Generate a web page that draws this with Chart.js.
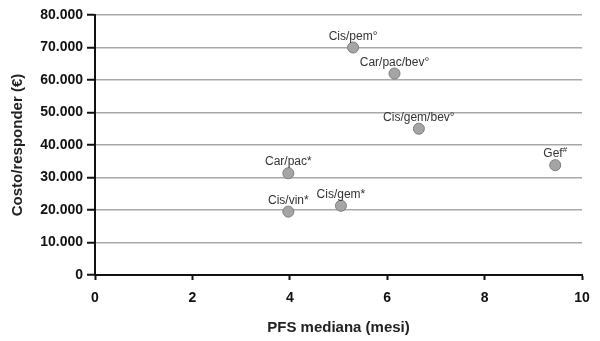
<!DOCTYPE html>
<html>
<head>
<meta charset="utf-8">
<script src="https://cdn.jsdelivr.net/npm/chart.js@4.4.1/dist/chart.umd.min.js"></script>
<style>
  html, body { margin: 0; padding: 0; background: #fff; }
  #wrap { width: 600px; height: 341px; position: relative; }
</style>
</head>
<body>
<div id="wrap"><canvas id="c"></canvas></div>
<script>
// Regimens, median PFS (months) and cost per responder (€)
const regimens = ['Cis/pem°', 'Car/pac/bev°', 'Cis/gem/bev°', 'Car/pac*', 'Gef#', 'Cis/vin*', 'Cis/gem*'];
const pfsMonths = [5.3, 6.15, 6.65, 3.97, 9.45, 3.97, 5.05];
const costPerResponder = [70000, 62000, 45000, 31300, 33800, 19500, 21300];

const xTicks = [0, 2, 4, 6, 8, 10];
const yTicks = [0, 10000, 20000, 30000, 40000, 50000, 60000, 70000, 80000];

const points = pfsMonths.map((x, i) => ({ x, y: costPerResponder[i] }));

function fmtThousands(v) {
  return String(v).replace(/\B(?=(\d{3})+(?!\d))/g, '.');
}

// Draws each regimen name just above its marker
const pointLabels = {
  id: 'pointLabels',
  afterDatasetsDraw(chart) {
    const ctx = chart.ctx;
    const meta = chart.getDatasetMeta(0);
    ctx.save();
    ctx.fillStyle = '#333';
    ctx.textBaseline = 'alphabetic';
    const font = '12px "Liberation Sans", Arial, sans-serif';
    const supFont = '8px "Liberation Sans", Arial, sans-serif';
    meta.data.forEach((el, i) => {
      let text = regimens[i];
      let sup = '';
      if (text.endsWith('#')) { sup = '#'; text = text.slice(0, -1); }
      ctx.font = font;
      const w = ctx.measureText(text).width;
      ctx.font = supFont;
      const ws = sup ? ctx.measureText(sup).width : 0;
      const total = w + ws;
      const x0 = el.x - total / 2;
      const yb = el.y - 8;
      ctx.font = font;
      ctx.textAlign = 'left';
      ctx.fillText(text, x0, yb);
      if (sup) {
        ctx.font = supFont;
        ctx.fillText(sup, x0 + w, yb - 5);
      }
    });
    ctx.restore();
  }
};

const tickFont = { family: '"Liberation Sans", Arial, sans-serif', size: 14, weight: 'bold' };
const titleFont = { family: '"Liberation Sans", Arial, sans-serif', size: 15, weight: 'bold' };

new Chart(document.getElementById('c'), {
  type: 'scatter',
  data: {
    datasets: [{
      data: points,
      pointRadius: 5.5,
      pointHoverRadius: 5.5,
      backgroundColor: '#a5a5a5',
      borderColor: '#7d7d7d',
      borderWidth: 1
    }]
  },
  options: {
    responsive: true,
    maintainAspectRatio: false,
    animation: false,
    layout: { padding: { top: 15, right: 18, left: 0, bottom: 0 } },
    plugins: { legend: { display: false }, tooltip: { enabled: false } },
    scales: {
      x: {
        type: 'linear',
        min: 0, max: 10,
        afterBuildTicks(axis) { axis.ticks = xTicks.map(v => ({ value: v })); },
        afterFit(axis) { axis.height = 66; },
        border: { color: '#111', width: 2 },
        grid: { drawOnChartArea: false, tickColor: '#111', tickWidth: 2, tickLength: 5 },
        ticks: { color: '#111', font: tickFont, padding: 10, maxRotation: 0 },
        title: { display: true, text: 'PFS mediana (mesi)', color: '#222', font: titleFont, padding: { top: 12, bottom: 4 } }
      },
      y: {
        type: 'linear',
        min: 0, max: 80000,
        afterBuildTicks(axis) { axis.ticks = yTicks.map(v => ({ value: v })); },
        afterFit(axis) { axis.width = 95; },
        border: { color: '#111', width: 2 },
        grid: { color: '#a8a8a8', lineWidth: 1.5, tickColor: '#111', tickWidth: 2, tickLength: 8 },
        ticks: { color: '#111', font: tickFont, padding: 4, callback: v => fmtThousands(v) },
        title: { display: true, text: 'Costo/responder (€)', color: '#222', font: titleFont, padding: { top: 9, bottom: 0 } }
      }
    }
  },
  plugins: [pointLabels]
});
</script>
</body>
</html>
